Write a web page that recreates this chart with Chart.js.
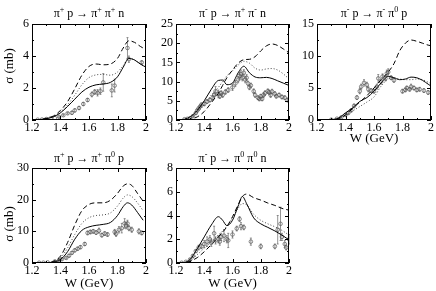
<!DOCTYPE html>
<html>
<head>
<meta charset="utf-8">
<script src="https://cdn.jsdelivr.net/npm/chart.js@4.4.1/dist/chart.umd.min.js"></script>
<style>
html, body { margin: 0; padding: 0; background: #fff; }
#wrap { position: relative; width: 436px; height: 291px; }
#wrap canvas { position: absolute; left: 0; top: 0; }
</style>
</head>
<body>
<div id="wrap">
  <canvas id="c1" width="436" height="291"></canvas>
  <canvas id="c2" width="436" height="291"></canvas>
  <canvas id="c3" width="436" height="291"></canvas>
  <canvas id="c4" width="436" height="291"></canvas>
  <canvas id="c5" width="436" height="291"></canvas>
</div>
<script>
// x axis (W in GeV), shared by all panels
const X_TICKS = [1.2, 1.4, 1.6, 1.8, 2.0];

// panel 1: pi+ p -> pi+ pi+ n
const p1Title = 'π^+ p → π^+ π^+ n';
const p1YTicks = [0, 2, 4, 6];
const p1W = [1.22, 1.25, 1.3, 1.35, 1.4, 1.45, 1.5, 1.55, 1.6, 1.65, 1.7, 1.75, 1.8, 1.84, 1.88, 1.92, 1.96, 2.0];
const p1Solid  = [0, 0.02, 0.08, 0.2, 0.45, 0.85, 1.3, 1.75, 2.05, 2.2, 2.25, 2.35, 2.7, 3.3, 3.85, 3.75, 3.5, 3.3];
const p1Dashed = [0, 0.02, 0.1, 0.25, 0.6, 1.15, 1.95, 2.8, 3.35, 3.5, 3.45, 3.5, 3.85, 4.5, 4.95, 4.85, 4.6, 4.4];
const p1Dotted = [0, 0.02, 0.08, 0.22, 0.5, 0.95, 1.55, 2.2, 2.65, 2.82, 2.85, 2.8, 3.0, 3.4, 3.85, 3.75, 3.5, 3.3];
const p1PtW   = [1.24, 1.27, 1.3, 1.33, 1.36, 1.39, 1.42, 1.45, 1.48, 1.5, 1.53, 1.56, 1.59, 1.62, 1.64, 1.66, 1.68, 1.7, 1.76, 1.78, 1.87, 1.88, 1.97];
const p1PtS   = [0.02, 0.03, 0.06, 0.1, 0.12, 0.2, 0.3, 0.42, 0.45, 0.6, 0.75, 1.0, 1.25, 1.6, 1.75, 1.7, 1.8, 2.35, 1.85, 2.15, 4.5, 3.8, 3.6];
const p1PtErr = [0, 0, 0, 0, 0, 0.05, 0.05, 0.05, 0.1, 0.1, 0.1, 0.1, 0.1, 0.15, 0.15, 0.2, 0.2, 0.55, 0.4, 0.4, 0.65, 0.2, 0.1];

// panel 2: pi- p -> pi+ pi- n
const p2Title = 'π^- p → π^+ π^- n';
const p2YTicks = [0, 5, 10, 15, 20, 25];
const p2W = [1.22, 1.26, 1.3, 1.35, 1.4, 1.45, 1.5, 1.53, 1.56, 1.6, 1.64, 1.68, 1.72, 1.76, 1.8, 1.84, 1.88, 1.92, 1.96, 2.0];
const p2Solid  = [0, 0.2, 0.8, 2.5, 5, 8, 10.3, 10.4, 9.2, 9.6, 12.3, 14, 12.3, 11.2, 11, 11.1, 10.8, 10.2, 9.6, 9];
const p2Dashed = [0, 0, 0.2, 0.8, 2.2, 4.5, 7, 9, 11, 13, 14.8, 15.7, 15.8, 16.5, 18, 19.3, 19.8, 19.4, 18.5, 17.5];
const p2Dotted = [0, 0.1, 0.5, 1.8, 4, 6.5, 8.5, 10, 11.5, 12.8, 14.3, 15.3, 14.8, 13.5, 13, 13.3, 13.4, 13, 12, 10.7];
const p2PtW   = [1.26, 1.28, 1.3, 1.32, 1.34, 1.35, 1.36, 1.37, 1.38, 1.4, 1.42, 1.44, 1.46, 1.47, 1.48, 1.5, 1.51, 1.52, 1.53, 1.55, 1.57, 1.6, 1.62, 1.64, 1.65, 1.66, 1.67, 1.68, 1.69, 1.7, 1.71, 1.72, 1.73, 1.75, 1.76, 1.78, 1.79, 1.8, 1.81, 1.82, 1.83, 1.85, 1.86, 1.87, 1.88, 1.9, 1.91, 1.93, 1.95, 1.97, 1.99];
const p2PtS   = [0.2, 0.3, 0.5, 1, 1.8, 2.5, 3, 3.5, 4, 4.2, 4.8, 5.2, 5.8, 6.5, 7.5, 6.8, 6.2, 7, 6.5, 7.3, 7.8, 8.5, 9.5, 10.5, 11.5, 12, 11, 12.3, 10.5, 11, 9.5, 8.5, 9, 7.5, 6.5, 5.8, 5.5, 6.2, 5.5, 6.5, 7, 7.5, 7.2, 6.5, 7.4, 6.8, 6.2, 6.5, 6, 5.8, 5.2];
const p2PtErr = [0, 0, 0, 0.2, 0.3, 0.3, 0.4, 0.4, 0.4, 0.5, 0.5, 0.5, 0.6, 0.6, 1.2, 1, 0.6, 0.6, 0.6, 0.6, 0.6, 0.8, 0.8, 0.8, 1, 1, 0.8, 0.8, 0.8, 0.8, 0.6, 0.6, 0.6, 0.6, 0.6, 0.5, 0.5, 0.5, 0.5, 0.6, 0.6, 0.6, 0.6, 0.6, 0.6, 0.6, 0.5, 0.5, 0.5, 0.5, 0.5];

// panel 3: pi- p -> pi- pi0 p
const p3Title = 'π^- p → π^- π^0 p';
const p3YTicks = [0, 5, 10, 15];
const p3W = [1.22, 1.26, 1.3, 1.35, 1.4, 1.45, 1.5, 1.55, 1.6, 1.65, 1.7, 1.74, 1.78, 1.82, 1.86, 1.9, 1.94, 1.98, 2.0];
const p3Solid  = [0, 0, 0.05, 0.3, 1.1, 1.9, 2.9, 3.5, 4.5, 5.8, 6.8, 6.6, 6.3, 6.4, 6.7, 6.6, 6.2, 5.6, 5.3];
const p3Dashed = [0, 0, 0.05, 0.2, 0.8, 1.8, 2.8, 3.8, 5, 6.3, 7.5, 8.8, 10.8, 12.0, 12.5, 12.3, 12.0, 11.7, 11.6];
const p3Dotted = [0, 0, 0.05, 0.2, 0.7, 1.4, 2.1, 2.8, 3.6, 5.3, 6.4, 6.6, 6.4, 6.3, 6.3, 6.4, 6.3, 5.9, 5.7];
const p3PtW   = [1.3, 1.34, 1.37, 1.4, 1.42, 1.44, 1.46, 1.48, 1.5, 1.51, 1.53, 1.55, 1.56, 1.58, 1.6, 1.62, 1.63, 1.65, 1.66, 1.68, 1.69, 1.7, 1.72, 1.74, 1.8, 1.82, 1.83, 1.85, 1.86, 1.88, 1.9, 1.92, 1.95, 1.98];
const p3PtS   = [0.05, 0.2, 0.4, 0.8, 1.1, 1.5, 2.2, 3.5, 4.5, 5.2, 5.8, 5.5, 4.8, 4.6, 4.5, 5.2, 6.5, 6, 6.8, 6.5, 7.3, 7.5, 6.6, 6.2, 4.5, 4.7, 5, 4.8, 5.2, 5, 4.7, 4.8, 4.6, 4.3];
const p3PtErr = [0, 0, 0.1, 0.2, 0.2, 0.2, 0.3, 0.3, 0.4, 0.4, 0.5, 0.4, 0.4, 0.3, 0.3, 0.4, 0.6, 0.4, 0.4, 0.4, 0.5, 0.5, 0.3, 0.3, 0.3, 0.3, 0.3, 0.3, 0.4, 0.3, 0.3, 0.3, 0.3, 0.3];

// panel 4: pi+ p -> pi+ pi0 p
const p4Title = 'π^+ p → π^+ π^0 p';
const p4YTicks = [0, 10, 20, 30];
const p4W = [1.22, 1.26, 1.3, 1.35, 1.4, 1.45, 1.5, 1.55, 1.6, 1.65, 1.7, 1.75, 1.8, 1.84, 1.87, 1.9, 1.94, 1.98];
const p4Solid  = [0, 0, 0.05, 0.3, 1.1, 3.6, 7.5, 10.3, 11.4, 11.9, 12.2, 12.8, 15, 17.8, 19, 18.3, 16, 13.5];
const p4Dashed = [0, 0, 0.05, 0.5, 2.2, 6.5, 12, 16.5, 18.5, 19, 19, 19.8, 22, 24.3, 25, 24.5, 22, 19.5];
const p4Dotted = [0, 0, 0.05, 0.4, 1.6, 4.8, 9, 12.5, 14.3, 15, 15.2, 15.8, 18, 20.5, 21.5, 21, 19, 16.5];
const p4PtW   = [1.25, 1.28, 1.31, 1.36, 1.39, 1.41, 1.44, 1.46, 1.48, 1.5, 1.52, 1.54, 1.57, 1.59, 1.61, 1.63, 1.65, 1.67, 1.69, 1.71, 1.73, 1.78, 1.79, 1.81, 1.83, 1.85, 1.86, 1.87, 1.88, 1.9, 1.95, 1.97];
const p4PtS   = [0.1, 0.1, 0.2, 0.5, 0.9, 1.2, 1.6, 2.3, 3.2, 4, 4.5, 5, 6, 9.5, 9.8, 10, 9.6, 10.2, 8.8, 9.3, 9, 9.8, 9.2, 10.5, 11, 12.5, 11.8, 12.5, 11, 10.5, 10, 9.5];
const p4PtErr = [0, 0, 0, 0.2, 0.2, 0.3, 0.3, 0.4, 0.4, 0.5, 0.5, 0.5, 0.5, 0.6, 0.6, 0.6, 0.6, 0.8, 0.6, 0.6, 0.6, 0.8, 0.8, 1, 1.5, 1.5, 1, 1, 0.8, 0.8, 0.8, 0.6];

// panel 5: pi- p -> pi0 pi0 n
const p5Title = 'π^- p → π^0 π^0 n';
const p5YTicks = [0, 2, 4, 6, 8];
const p5W = [1.22, 1.26, 1.3, 1.35, 1.4, 1.45, 1.5, 1.53, 1.56, 1.6, 1.64, 1.67, 1.7, 1.75, 1.8, 1.85, 1.9, 1.95, 2.0];
const p5Solid  = [0, 0.05, 0.3, 1.2, 2.2, 3.2, 3.9, 3.6, 3.15, 3.6, 4.8, 5.6, 5.0, 3.8, 3.3, 3.0, 2.7, 2.35, 1.95];
const p5Dashed = [0, 0.02, 0.15, 0.45, 0.95, 1.55, 2.2, 2.6, 3.05, 3.9, 4.9, 5.6, 5.8, 5.5, 5.3, 5.05, 4.85, 4.6, 4.45];
const p5Dotted = [0, 0.03, 0.2, 0.7, 1.25, 1.8, 2.35, 2.7, 3.1, 3.8, 4.6, 5.0, 4.9, 4.1, 3.6, 3.3, 3.05, 2.75, 2.35];
const p5PtW   = [1.24, 1.27, 1.3, 1.32, 1.34, 1.36, 1.38, 1.4, 1.42, 1.44, 1.45, 1.47, 1.48, 1.5, 1.51, 1.52, 1.54, 1.56, 1.57, 1.6, 1.63, 1.65, 1.66, 1.68, 1.73, 1.8, 1.9, 1.92, 1.94, 1.95, 1.97, 1.98, 2.0];
const p5PtS   = [0.02, 0.1, 0.3, 0.6, 1.0, 1.3, 1.4, 1.6, 1.8, 2.0, 1.7, 2.5, 1.9, 2.0, 1.8, 2.2, 2.3, 2.0, 1.9, 2.4, 2.9, 3.7, 3.1, 3.0, 1.8, 1.4, 1.4, 2.8, 3.3, 2.2, 1.6, 1.3, 2.0];
const p5PtErr = [0, 0, 0.05, 0.1, 0.1, 0.2, 0.2, 0.3, 0.4, 0.3, 0.3, 0.6, 0.3, 0.3, 0.3, 0.3, 0.5, 0.3, 0.6, 0.3, 0.2, 0.2, 0.3, 0.2, 0.3, 0.2, 0.2, 1.2, 1.4, 0.3, 0.3, 0.2, 0.4];

const FONT = '"Liberation Serif", "Times New Roman", serif';

function pairs(xs, ys) {
    return xs.map((x, i) => ({ x: x, y: ys[i] }));
}

// "^" marks the next character as a superscript
function drawRich(ctx, str, cx, y, size) {
    const parts = [];
    for (let i = 0; i < str.length; i++) {
        if (str[i] === '^') { parts.push({ t: str[i + 1], sup: true }); i++; }
        else parts.push({ t: str[i], sup: false });
    }
    const big = size + 'px ' + FONT, small = Math.round(size * 0.65) + 'px ' + FONT;
    let total = 0;
    parts.forEach(p => { ctx.font = p.sup ? small : big; p.w = ctx.measureText(p.t).width; total += p.w; });
    let x = cx - total / 2;
    ctx.textAlign = 'left';
    ctx.textBaseline = 'alphabetic';
    parts.forEach(p => {
        ctx.font = p.sup ? small : big;
        ctx.fillText(p.t, x, p.sup ? y - size * 0.45 : y);
        x += p.w;
    });
}

// box round the plot and inward ticks on all four sides
const framePlugin = {
    id: 'frame',
    afterDatasetsDraw(chart, args, o) {
        const { ctx, chartArea: a, scales: { x, y } } = chart;
        ctx.save();
        ctx.strokeStyle = '#000';
        ctx.lineWidth = 1;
        ctx.setLineDash([]);
        ctx.strokeRect(a.left + 0.5, a.top + 0.5, a.right - a.left - 1, a.bottom - a.top - 1);
        ctx.beginPath();
        for (let i = 0; i <= 8; i++) {
            const px = Math.round(x.getPixelForValue(1.2 + i * 0.1)) + 0.5;
            const len = i % 2 === 0 ? 4 : 2;
            ctx.moveTo(px, a.bottom); ctx.lineTo(px, a.bottom - len);
            ctx.moveTo(px, a.top); ctx.lineTo(px, a.top + len);
        }
        const yt = o.yTicks;
        const step = yt[1] - yt[0];
        for (let v = 0; v <= yt[yt.length - 1] + 1e-9; v += step / 2) {
            const py = Math.round(y.getPixelForValue(v)) + 0.5;
            const major = Math.abs(v / step - Math.round(v / step)) < 1e-6;
            const len = major ? 4 : 2;
            ctx.moveTo(a.left, py); ctx.lineTo(a.left + len, py);
            ctx.moveTo(a.right, py); ctx.lineTo(a.right - len, py);
        }
        ctx.stroke();
        ctx.restore();
    }
};

// vertical error bars on the data points
const errorBarPlugin = {
    id: 'errbars',
    beforeDatasetsDraw(chart) {
        const { ctx, scales: { x, y } } = chart;
        ctx.save();
        ctx.strokeStyle = '#666';
        ctx.lineWidth = 0.7;
        chart.data.datasets.forEach(ds => {
            if (!ds.errors) return;
            ds.data.forEach((p, i) => {
                const e = ds.errors[i];
                if (!e) return;
                const px = x.getPixelForValue(p.x);
                const y1 = y.getPixelForValue(p.y - e), y2 = y.getPixelForValue(p.y + e);
                ctx.beginPath();
                ctx.moveTo(px, y1); ctx.lineTo(px, y2);
                ctx.moveTo(px - 1, y1); ctx.lineTo(px + 1, y1);
                ctx.moveTo(px - 1, y2); ctx.lineTo(px + 1, y2);
                ctx.stroke();
            });
        });
        ctx.restore();
    }
};

const textPlugin = {
    id: 'texts',
    afterDraw(chart, args, o) {
        const { ctx, chartArea: a } = chart;
        const cx = (a.left + a.right) / 2;
        ctx.save();
        ctx.fillStyle = '#000';
        drawRich(ctx, o.title, cx, o.titleY, 12);
        ctx.font = '13px ' + FONT;
        ctx.textAlign = 'center';
        ctx.textBaseline = 'middle';
        if (o.xlabel) ctx.fillText(o.xlabel, cx, o.xlabelY);
        if (o.ylabel) {
            ctx.translate(o.ylabelX, o.ylabelY);
            ctx.rotate(-Math.PI / 2);
            ctx.fillText(o.ylabel, 0, 0);
        }
        ctx.restore();
    }
};

function makePanel(id, box, title, yTicks, w, solid, dashed, dotted, ptW, ptS, ptErr, labels) {
    const Y_AXIS_W = 24, X_AXIS_H = 20;
    const lineDs = (vals, dash, color) => ({
        data: pairs(w, vals),
        borderColor: color,
        borderWidth: 1,
        borderDash: dash,
        pointRadius: 0,
        fill: false,
        cubicInterpolationMode: 'monotone'
    });
    new Chart(document.getElementById(id).getContext('2d'), {
        type: 'line',
        data: {
            datasets: [
                lineDs(solid, [], '#000'),
                lineDs(dashed, [5, 3], '#000'),
                lineDs(dotted, [1, 2], '#444'),
                {
                    data: pairs(ptW, ptS),
                    errors: ptErr,
                    showLine: false,
                    pointRadius: 1.8,
                    pointBorderWidth: 0.7,
                    pointBorderColor: '#555',
                    pointBackgroundColor: 'rgba(255,255,255,0)'
                }
            ]
        },
        options: {
            responsive: false,
            animation: false,
            devicePixelRatio: 1,
            events: [],
            layout: {
                padding: {
                    left: box.left - Y_AXIS_W,
                    top: box.top,
                    right: 436 - box.right,
                    bottom: 291 - box.bottom - X_AXIS_H
                }
            },
            plugins: {
                legend: { display: false },
                tooltip: { enabled: false },
                frame: { yTicks: yTicks },
                texts: Object.assign({ title: title }, labels)
            },
            scales: {
                x: {
                    type: 'linear',
                    min: 1.2,
                    max: 2.0,
                    afterFit: s => { s.height = X_AXIS_H; },
                    afterBuildTicks: s => { s.ticks = X_TICKS.map(v => ({ value: v })); },
                    grid: { display: false, drawTicks: false },
                    border: { display: false },
                    ticks: {
                        autoSkip: false,
                        maxRotation: 0,
                        padding: 1,
                        color: '#000',
                        font: { family: FONT, size: 12 },
                        callback: v => Math.abs(v - 2) < 1e-6 ? '2' : v.toFixed(1)
                    }
                },
                y: {
                    type: 'linear',
                    min: 0,
                    max: yTicks[yTicks.length - 1],
                    afterFit: s => { s.width = Y_AXIS_W; },
                    afterBuildTicks: s => { s.ticks = yTicks.map(v => ({ value: v })); },
                    grid: { display: false, drawTicks: false },
                    border: { display: false },
                    ticks: {
                        padding: 3,
                        color: '#000',
                        font: { family: FONT, size: 12 },
                        callback: v => String(v)
                    }
                }
            }
        },
        plugins: [errorBarPlugin, framePlugin, textPlugin]
    });
}

makePanel('c1', { left: 32, top: 24, right: 146, bottom: 120 }, p1Title, p1YTicks,
    p1W, p1Solid, p1Dashed, p1Dotted, p1PtW, p1PtS, p1PtErr,
    { titleY: 17, ylabel: 'σ (mb)', ylabelX: 10, ylabelY: 66 });
makePanel('c2', { left: 176, top: 24, right: 289, bottom: 120 }, p2Title, p2YTicks,
    p2W, p2Solid, p2Dashed, p2Dotted, p2PtW, p2PtS, p2PtErr,
    { titleY: 17 });
makePanel('c3', { left: 317, top: 24, right: 431, bottom: 120 }, p3Title, p3YTicks,
    p3W, p3Solid, p3Dashed, p3Dotted, p3PtW, p3PtS, p3PtErr,
    { titleY: 17, xlabel: 'W (GeV)', xlabelY: 139 });
makePanel('c4', { left: 32, top: 168, right: 146, bottom: 263 }, p4Title, p4YTicks,
    p4W, p4Solid, p4Dashed, p4Dotted, p4PtW, p4PtS, p4PtErr,
    { titleY: 162, xlabel: 'W (GeV)', xlabelY: 284, ylabel: 'σ (mb)', ylabelX: 10, ylabelY: 224 });
makePanel('c5', { left: 176, top: 168, right: 289, bottom: 263 }, p5Title, p5YTicks,
    p5W, p5Solid, p5Dashed, p5Dotted, p5PtW, p5PtS, p5PtErr,
    { titleY: 162, xlabel: 'W (GeV)', xlabelY: 284 });
</script>
</body>
</html>
